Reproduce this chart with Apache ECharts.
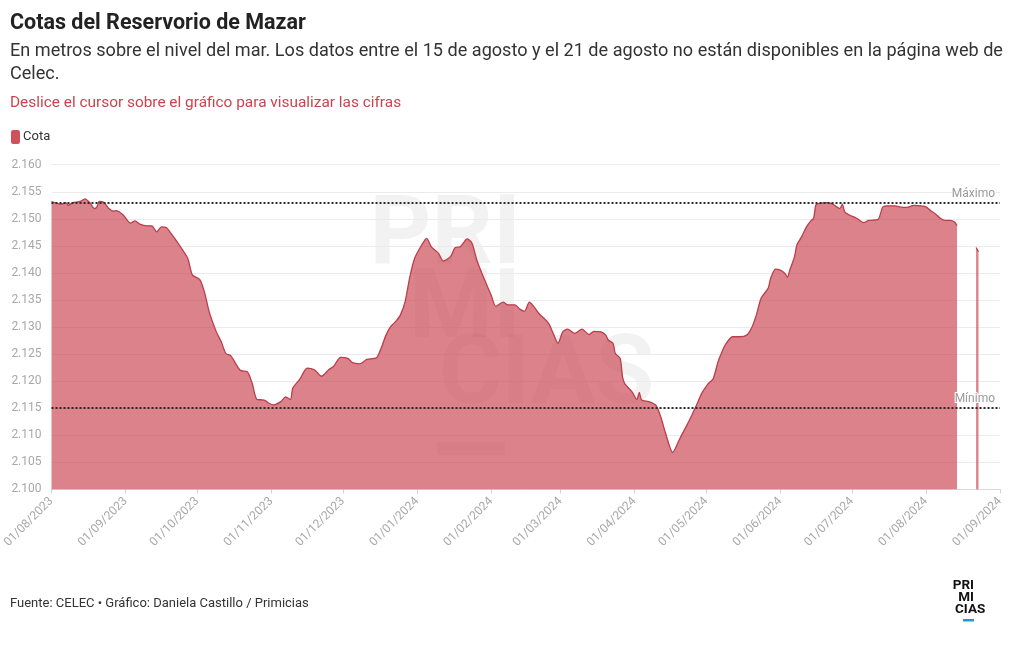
<!DOCTYPE html>
<html><head><meta charset="utf-8">
<script src="https://cdn.jsdelivr.net/npm/echarts@6/dist/echarts.min.js"></script>
<style>html,body{margin:0;padding:0;background:#fff}#c{width:1020px;height:650px}</style>
</head><body><div id="c"></div>
<script>
// ---- DATA ----
const dates = [
'2023-08-01','2023-08-03','2023-08-05','2023-08-07','2023-08-08','2023-08-10','2023-08-13','2023-08-15','2023-08-17','2023-08-19',
'2023-08-20','2023-08-21','2023-08-23','2023-08-25','2023-08-27','2023-08-28','2023-08-31','2023-09-03','2023-09-05','2023-09-07',
'2023-09-10','2023-09-12','2023-09-14','2023-09-16','2023-09-18','2023-09-20','2023-09-22','2023-09-24','2023-09-27','2023-09-29',
'2023-10-02','2023-10-04','2023-10-06','2023-10-09','2023-10-11','2023-10-13','2023-10-15','2023-10-19','2023-10-22','2023-10-24',
'2023-10-26','2023-10-29','2023-10-31','2023-11-02','2023-11-05','2023-11-07','2023-11-09','2023-11-10','2023-11-13','2023-11-16',
'2023-11-19','2023-11-22','2023-11-25','2023-11-27','2023-11-30','2023-12-03','2023-12-05','2023-12-08','2023-12-11','2023-12-15',
'2023-12-17','2023-12-19','2023-12-21','2023-12-23','2023-12-25','2023-12-27','2023-12-29','2023-12-31','2024-01-03','2024-01-05',
'2024-01-07','2024-01-10','2024-01-12','2024-01-15','2024-01-17','2024-01-19','2024-01-22','2024-01-24','2024-01-26','2024-01-29',
'2024-02-01','2024-02-03','2024-02-06','2024-02-08','2024-02-11','2024-02-13','2024-02-15','2024-02-17','2024-02-21','2024-02-25',
'2024-02-27','2024-02-29','2024-03-02','2024-03-04','2024-03-07','2024-03-10','2024-03-13','2024-03-15','2024-03-18','2024-03-20',
'2024-03-21','2024-03-23','2024-03-24','2024-03-26','2024-03-27','2024-03-28','2024-03-31','2024-04-02','2024-04-03','2024-04-04',
'2024-04-07','2024-04-10','2024-04-12','2024-04-14','2024-04-17','2024-04-20','2024-04-23','2024-04-25','2024-04-27','2024-04-29',
'2024-05-01','2024-05-02','2024-05-04','2024-05-06','2024-05-08','2024-05-09','2024-05-12','2024-05-15','2024-05-18','2024-05-20',
'2024-05-22','2024-05-24','2024-05-27','2024-05-28','2024-05-30','2024-06-01','2024-06-03','2024-06-04','2024-06-05','2024-06-07',
'2024-06-08','2024-06-10','2024-06-12','2024-06-14','2024-06-15','2024-06-16','2024-06-18','2024-06-21','2024-06-23','2024-06-26',
'2024-06-27','2024-06-28','2024-06-30','2024-07-03','2024-07-06','2024-07-08','2024-07-12','2024-07-13','2024-07-14','2024-07-16',
'2024-07-19','2024-07-21','2024-07-24','2024-07-27','2024-07-30','2024-08-01','2024-08-03','2024-08-05','2024-08-07','2024-08-09',
'2024-08-11','2024-08-13','2024-08-14','2024-08-15','2024-08-22','2024-08-23'
];
const cota = [
2153.2,2152.9,2152.7,2153.0,2152.5,2153.0,2153.2,2153.7,2153.0,2151.9,
2152.2,2153.2,2153.0,2151.9,2151.4,2151.5,2150.7,2149.2,2149.6,2149.0,
2148.7,2148.7,2147.6,2148.5,2148.4,2147.3,2146.1,2144.8,2142.7,2139.6,
2138.8,2136.5,2132.8,2129.1,2127.3,2125.1,2124.7,2122.0,2121.7,2119.6,
2116.6,2116.5,2115.9,2115.6,2116.2,2117.1,2116.6,2118.7,2120.4,2122.4,
2122.1,2120.9,2122.1,2122.7,2124.4,2124.2,2123.4,2123.2,2124.0,2124.3,
2126.1,2128.5,2130.1,2131.0,2132.2,2134.7,2139.3,2142.7,2145.2,2146.4,
2144.8,2143.6,2142.2,2143.0,2144.7,2144.8,2146.3,2145.5,2142.4,2139.0,
2135.9,2133.8,2134.6,2134.1,2134.1,2133.3,2132.9,2134.6,2132.5,2130.7,
2128.8,2127.0,2129.1,2129.6,2128.8,2129.6,2128.6,2129.2,2129.1,2128.5,
2127.6,2127.0,2125.1,2124.2,2120.8,2119.5,2118.0,2116.6,2117.9,2116.5,
2116.2,2115.5,2113.4,2110.4,2106.8,2109.4,2111.9,2113.7,2115.6,2117.6,
2119.0,2119.6,2120.5,2123.6,2125.8,2126.7,2128.2,2128.2,2128.5,2129.8,
2132.2,2135.3,2137.2,2139.0,2140.7,2140.5,2139.9,2139.2,2140.5,2143.0,
2145.2,2146.7,2148.5,2149.7,2150.1,2152.6,2152.9,2153.0,2152.7,2151.9,
2152.7,2151.3,2150.7,2150.1,2149.3,2149.7,2149.9,2151.0,2152.2,2152.4,
2152.4,2152.2,2152.1,2152.5,2152.4,2152.2,2151.5,2150.9,2150.1,2149.7,
2149.7,2149.4,2148.7,null,2144.7,2143.9
];
const tickLabels = ['01/08/2023','01/09/2023','01/10/2023','01/11/2023','01/12/2023','01/01/2024',
  '01/02/2024','01/03/2024','01/04/2024','01/05/2024','01/06/2024','01/07/2024','01/08/2024','01/09/2024'];
const yMin = 2100, yMax = 2160, yStep = 5;
const maximo = 2153, minimo = 2115;
const seriesName = 'Cota';

// ---- BUILD ----
function isoTs(s){const p=s.split('-').map(Number);return new Date(p[0],p[1]-1,p[2]).getTime();}
function dmyTs(s){const p=s.split('/').map(Number);return new Date(p[2],p[1]-1,p[0]).getTime();}
const tickTs = tickLabels.map(dmyTs);
const pad=n=>String(n).padStart(2,'0');
function fmtDate(v){const d=new Date(v);return pad(d.getDate())+'/'+pad(d.getMonth()+1)+'/'+d.getFullYear();}
function fmtNum(v){return Math.floor(v/1000)+'.'+String(Math.round(v%1000)).padStart(3,'0');}
const seriesData = dates.map((d,i)=>[isoTs(d), cota[i]]);

const FONT = 'Roboto, "Noto Sans", sans-serif';
const WM = 'rgba(0,0,0,0.05)';
const chart = echarts.init(document.getElementById('c'), null, {renderer:'canvas'});
chart.setOption({
  animation:false,
  backgroundColor:'#ffffff',
  textStyle:{fontFamily:FONT},
  grid:{left:49.5, right:20, top:164.7, bottom:160.7, containLabel:false},
  legend:{
    show:true, left:11, top:130, padding:0, icon:'roundRect', itemWidth:9, itemHeight:14, itemGap:4,
    textStyle:{fontSize:13, color:'#333', fontFamily:FONT, padding:[0,0,0,-2]},
    data:[seriesName]
  },
  xAxis:{
    type:'value', min:tickTs[0], max:tickTs[tickTs.length-1], scale:true,
    axisLine:{show:true, lineStyle:{color:'#d9d9d9', width:1}},
    axisTick:{show:true, customValues:tickTs, length:4, lineStyle:{color:'#d0d0d0'}},
    axisLabel:{customValues:tickTs, rotate:45, margin:10, color:'#a8a8a8', fontSize:12, fontFamily:FONT,
      showMinLabel:true, showMaxLabel:true, hideOverlap:false,
      formatter:(v)=>fmtDate(v)},
    splitLine:{show:false}
  },
  yAxis:{
    type:'value', min:yMin, max:yMax, interval:yStep,
    axisLine:{show:false}, axisTick:{show:false},
    axisLabel:{color:'#a8a8a8', fontSize:12, margin:10, fontFamily:FONT, formatter:(v)=>fmtNum(v)},
    splitLine:{lineStyle:{color:'#ebebeb', width:1}}
  },
  series:[{
    name:seriesName, type:'line', data:seriesData, showSymbol:false, smooth:0.25, connectNulls:false,
    itemStyle:{color:'#d0505c'},
    lineStyle:{color:'#bb3e4b', width:1.3},
    areaStyle:{color:'#c8414d', opacity:0.66},
    z:2,
    markLine:{
      silent:true, symbol:['none','none'], animation:false,
      lineStyle:{type:[2,2], color:'#2b2b2b', width:2},
      label:{position:'insideEndTop', color:'#9a9a9a', fontSize:12, fontFamily:FONT, distance:[5,3],
        textBorderColor:'#fff', textBorderWidth:2},
      data:[{yAxis:maximo, label:{formatter:'Máximo'}},{yAxis:minimo, label:{formatter:'Mínimo'}}]
    }
  }],
  graphic:[
    {type:'text', z:0, silent:true, style:{text:'PRI', x:521, y:239, textAlign:'right', textVerticalAlign:'middle', font:'bold 96px '+FONT, fill:WM}},
    {type:'text', z:0, silent:true, style:{text:'MI', x:521, y:313, textAlign:'right', textVerticalAlign:'middle', font:'bold 96px '+FONT, fill:WM}},
    {type:'text', z:0, silent:true, style:{text:'CIAS', x:439, y:379, textAlign:'left', textVerticalAlign:'middle', font:'bold 96px '+FONT, fill:WM}},
    {type:'rect', z:0, silent:true, shape:{x:437, y:442, width:68, height:13}, style:{fill:WM}},
    {type:'text', left:10, top:13, style:{text:'Cotas del Reservorio de Mazar', font:'bold 21.5px '+FONT, fill:'#222'}},
    {type:'text', left:10, top:40, style:{text:'En metros sobre el nivel del mar. Los datos entre el 15 de agosto y el 21 de agosto no están disponibles en la página web de\nCelec.', font:'18.1px '+FONT, fill:'#333', lineHeight:23}},
    {type:'text', left:10, top:96, style:{text:'Deslice el cursor sobre el gráfico para visualizar las cifras', font:'15.4px '+FONT, fill:'#c9444f'}},
    {type:'text', left:10, top:597, style:{text:'Fuente: CELEC • Gráfico: Daniela Castillo / Primicias', font:'13px '+FONT, fill:'#333'}},
    {type:'text', silent:true, style:{text:'PRI', x:974, y:586, textAlign:'right', textVerticalAlign:'middle', font:'bold 13.5px '+FONT, fill:'#111'}},
    {type:'text', silent:true, style:{text:'MI', x:974, y:598, textAlign:'right', textVerticalAlign:'middle', font:'bold 13.5px '+FONT, fill:'#111'}},
    {type:'text', silent:true, style:{text:'CIAS', x:955, y:610, textAlign:'left', textVerticalAlign:'middle', font:'bold 13.5px '+FONT, fill:'#111'}},
    {type:'rect', silent:true, shape:{x:963, y:619, width:11, height:2.5}, style:{fill:'#1f9ad6'}}
  ]
});
</script></body></html>
